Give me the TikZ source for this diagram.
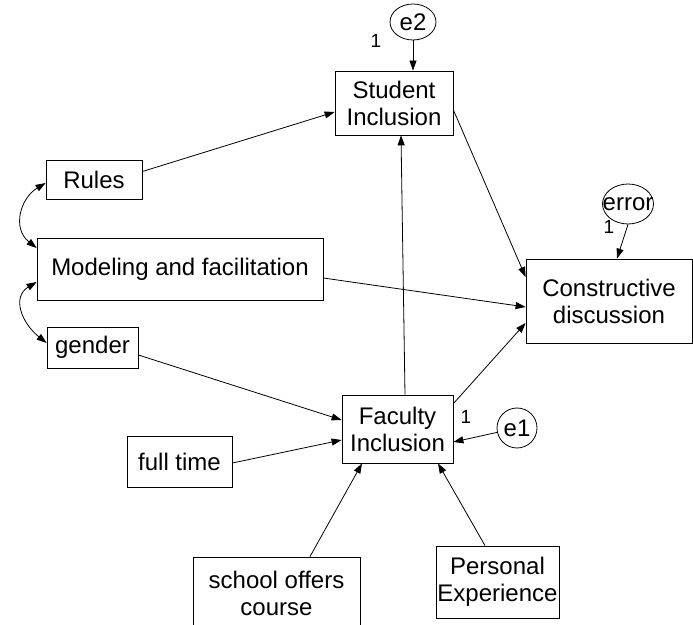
\documentclass[tikz,border=0pt]{standalone}
\usepackage{fontspec}
\setmainfont{Liberation Sans}
\usepackage{tikz}
\usetikzlibrary{arrows.meta,shapes.geometric}

\begin{document}
\begin{tikzpicture}[x=1pt,y=1pt]
            \tikzstyle{var}=[draw,line width=0.8pt,inner sep=0pt,align=center,font=\fontsize{24}{27}\selectfont]
            \tikzstyle{err}=[draw,ellipse,line width=0.8pt,inner sep=0pt,font=\fontsize{24}{27}\selectfont]
            \tikzstyle{path}=[line width=0.8pt,-{Triangle[length=10pt,width=7pt]}]
            \tikzstyle{cov}=[line width=0.8pt,{Triangle[length=10pt,width=7pt]}-{Triangle[length=10pt,width=7pt]}]
            \tikzstyle{one}=[font=\fontsize{19}{19}\selectfont,inner sep=0pt]
            \useasboundingbox (0,0) rectangle (693,624);
            % observed variables
            \node[var,minimum width=118,minimum height=64] (stu) at (394,521) {Student\\Inclusion};
            \node[var,minimum width=96,minimum height=39] (rules) at (94,444.5) {Rules};
            \node[var,minimum width=286,minimum height=62] (model) at (180,355) {Modeling and facilitation};
            \node[var,minimum width=91,minimum height=41] (gender) at (92.5,276.5) {gender};
            \node[var,minimum width=166,minimum height=84] (con) at (609,323) {Constructive\\discussion};
            \node[var,minimum width=111,minimum height=68] (fac) at (397.5,195) {Faculty\\Inclusion};
            \node[var,minimum width=105,minimum height=51] (full) at (179.5,162.5) {full time};
            \node[var,minimum width=167,minimum height=72] (school) at (276.5,31) {school offers\\course};
            \node[var,minimum width=123,minimum height=72] (pers) at (497.5,42) {Personal\\Experience};
            % error terms
            \node[err,minimum width=46,minimum height=36] (e2) at (413,602) {e2};
            \node[err,minimum width=51,minimum height=40] (error) at (628,420) {\makebox[30pt]{error}};
            \node[err,minimum width=40,minimum height=40] (e1) at (517,196) {e1};
            \node[one] (one2) at (376,583) {1};
            \node[one] (oneerr) at (609,397) {1};
            \node[one] (one1) at (466,207) {1};
            % paths
            \draw[path] (e2.south) -- (e2.south |- stu.north);
            \draw[path] (error.south) -- ([xshift=8pt]con.north);
            \draw[path] (e1) -- ([yshift=-13pt]fac.east);
            \draw[path] ([yshift=8pt]rules.east) -- ([yshift=-9pt]stu.west);
            \draw[path] ([yshift=-7pt]stu.east) -- ([yshift=24pt]con.west);
            \draw[path] ([yshift=-9pt]model.east) -- ([yshift=-6pt]con.west);
            \draw[path] ([yshift=-9pt]fac.north east) -- ([yshift=-22pt]con.west);
            \draw[path] ([xshift=7.5pt]fac.north) -- ([xshift=7pt]stu.south);
            \draw[path] ([yshift=-7.5pt]gender.east) -- ([yshift=9pt]fac.west);
            \draw[path] ([yshift=-1.5pt]full.east) -- ([yshift=-11pt]fac.west);
            \draw[path] ([xshift=33.5pt]school.north) -- ([xshift=-35.5pt]fac.south);
            \draw[path] ([xshift=-12.5pt]pers.north) -- ([xshift=40.5pt]fac.south);
            % covariances
            \draw[cov] ([yshift=-3.5pt]rules.west) .. controls +(-25,-15) and +(-25,20) .. ([yshift=21pt]model.west);
            \draw[cov] ([yshift=-13pt]model.west) .. controls +(-25,-15) and +(-25,20) .. ([yshift=4.5pt]gender.west);
        \end{tikzpicture}
\end{document}
